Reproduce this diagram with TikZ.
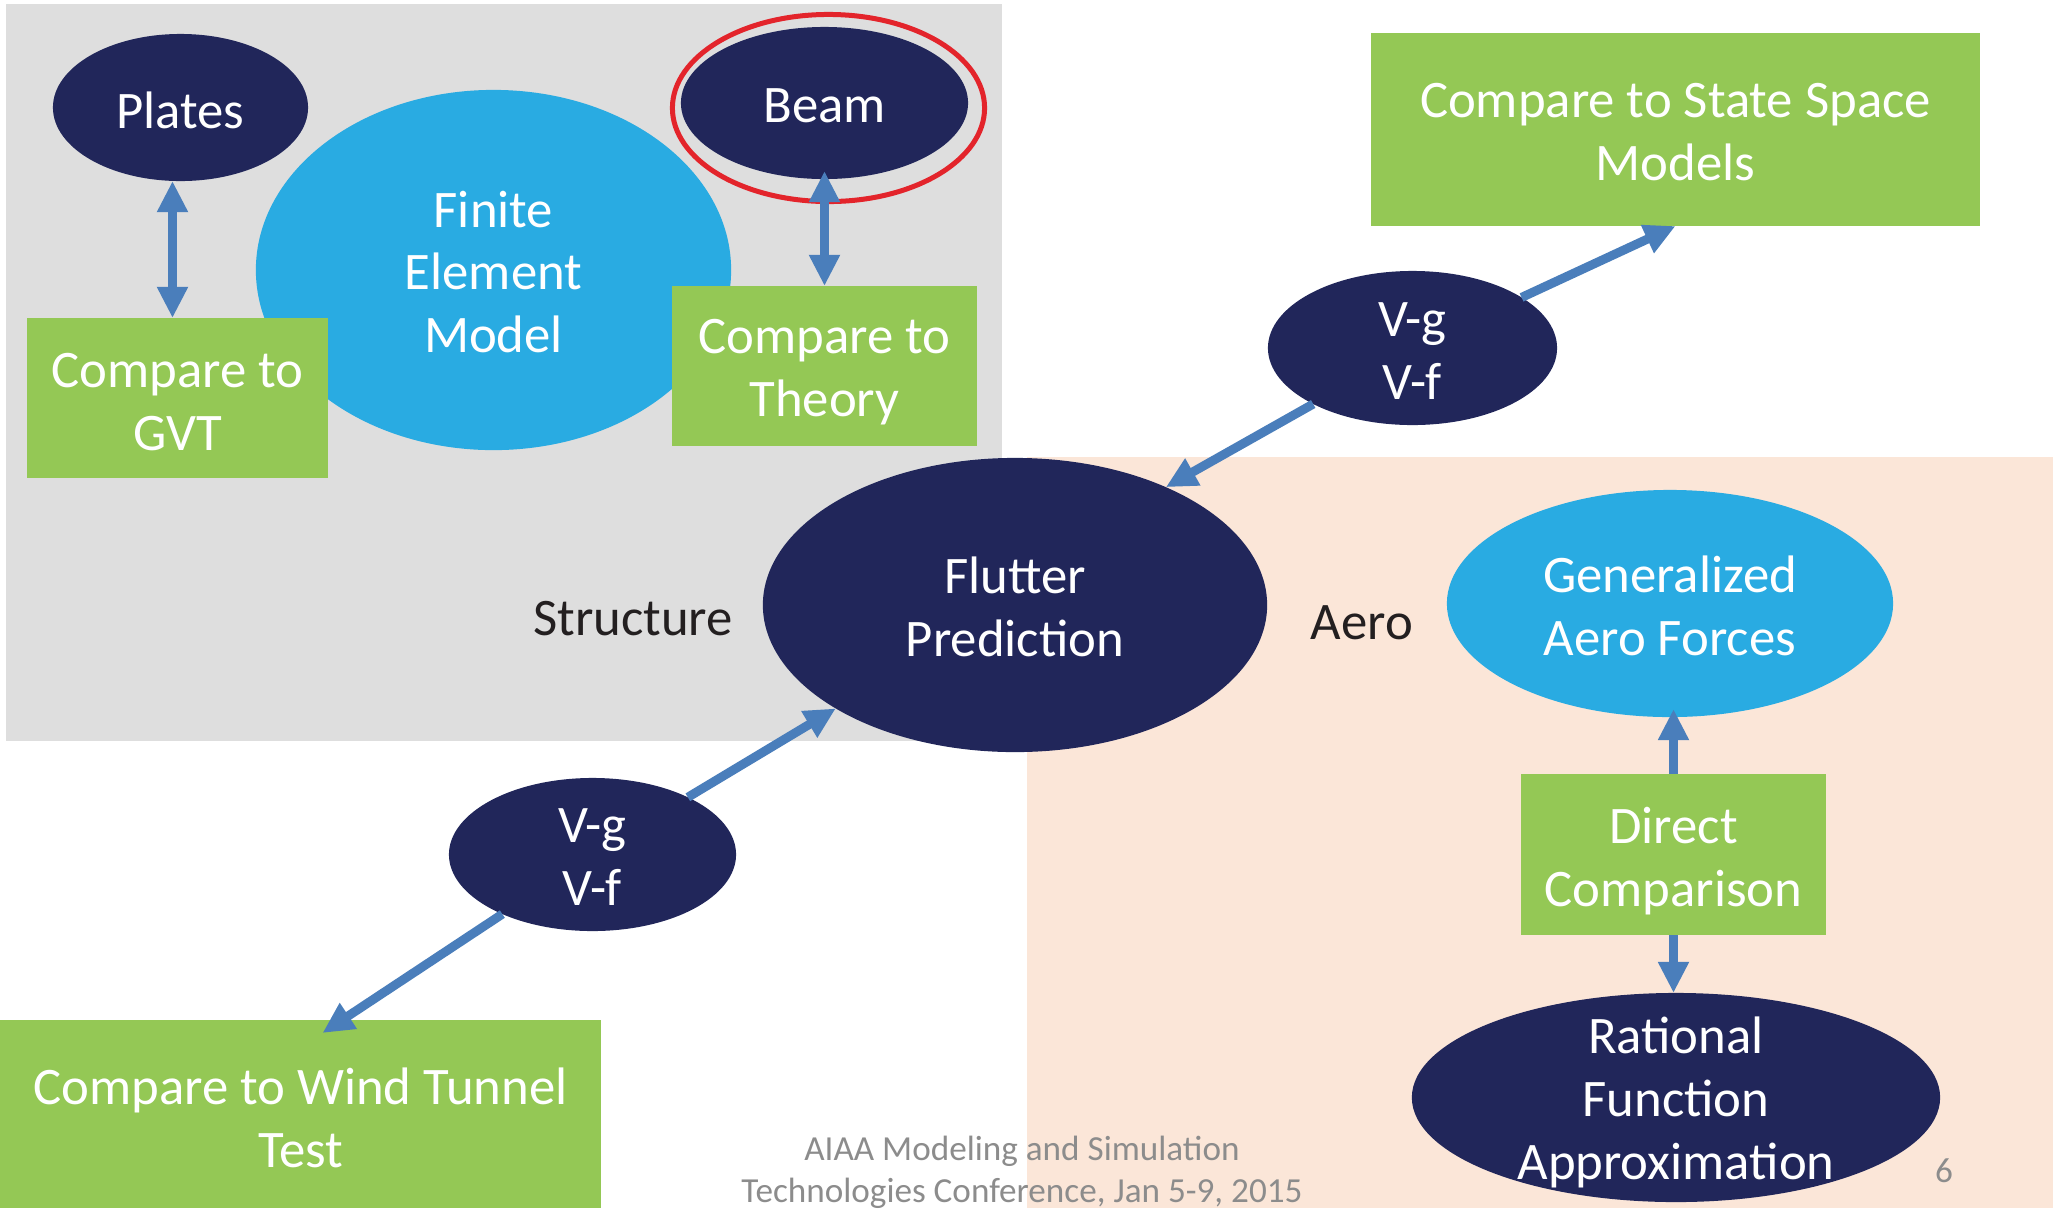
\documentclass[tikz,border=0pt]{standalone}
\usepackage{fontspec}
\setmainfont{Carlito}
\usetikzlibrary{shapes.geometric,arrows.meta}
\definecolor{navy}{HTML}{21265A}
\definecolor{skyfill}{HTML}{29ABE2}
\definecolor{boxgreen}{HTML}{94C855}
\definecolor{arrowblue}{HTML}{4A7EBB}
\definecolor{ringred}{HTML}{E3242B}
\definecolor{structgray}{HTML}{DEDEDE}
\definecolor{aeropeach}{HTML}{FBE6D8}
\definecolor{footgray}{HTML}{8C8C8C}
\definecolor{inkblack}{HTML}{231F20}
\tikzset{
	bigtext/.style={font=\fontsize{15}{17.9}\selectfont, align=center},
	wtxt/.style={bigtext, text=white, inner sep=0pt, yshift=-0.03cm},
	oval/.style={ellipse, inner sep=0pt, outer sep=0pt},
	darkoval/.style={oval, fill=navy},
	blueoval/.style={oval, fill=skyfill},
	greenbox/.style={rectangle, fill=boxgreen, inner sep=0pt, outer sep=0pt},
	link/.style={draw=arrowblue, line width=0.09cm, >={Triangle[length=0.31cm,width=0.29cm]}},
}
\begin{document}
\begin{tikzpicture}[x=0.01cm, y=-0.01cm]
					\useasboundingbox (0,0) rectangle (2053,1208);
					% Structure and Aero areas
					\fill[structgray] (6,4) rectangle (1002,741);
					\fill[aeropeach] (1027,457) rectangle (2053,1208);
					% Structure side
					\node[blueoval, minimum width=4.75cm, minimum height=3.6cm, label={[wtxt,yshift=0.01cm]center:Finite\\Element\\Model}] (fem) at (493.5,270) {};
					\node[darkoval, minimum width=2.55cm, minimum height=1.47cm, label={[wtxt]center:Plates}] (plates) at (180.5,107.5) {};
					\node[darkoval, minimum width=2.87cm, minimum height=1.52cm, label={[wtxt]center:Beam}] (beam) at (824.5,103) {};
					\node[oval, draw=ringred, line width=0.05cm, minimum width=3.12cm, minimum height=1.87cm] (ring) at (828.5,108) {};
					\node[greenbox, minimum width=3.01cm, minimum height=1.6cm, label={[wtxt,yshift=-0.01cm]center:Compare to\\GVT}] (gvt) at (177.5,398) {};
					\node[greenbox, minimum width=3.05cm, minimum height=1.6cm, label={[wtxt,yshift=-0.035cm]center:Compare to\\Theory}] (theory) at (824.5,366) {};
					\node[bigtext, text=inkblack] (structure) at (633,619) {Structure};
					% Flutter prediction in the middle
					\node[darkoval, minimum width=5.04cm, minimum height=2.94cm, label={[wtxt,yshift=0.01cm]center:Flutter\\Prediction}] (flutter) at (1015,605) {};
					% V-g / V-f comparisons
					\node[darkoval, minimum width=2.89cm, minimum height=1.54cm, label={[wtxt]center:V-g\\V-f}] (vgup) at (1412.5,348) {};
					\node[darkoval, minimum width=2.87cm, minimum height=1.53cm, label={[wtxt]center:V-g\\V-f}] (vglow) at (592.5,854.5) {};
					\node[greenbox, minimum width=6.09cm, minimum height=1.93cm, label={[wtxt]center:Compare to State Space\\Models}] (ssm) at (1675.5,129.5) {};
					\node[greenbox, minimum width=6.01cm, minimum height=1.88cm, label={[wtxt,yshift=-0.01cm]center:Compare to Wind Tunnel\\Test}] (wind) at (300.5,1114) {};
					% Aero side
					\node[bigtext, text=inkblack] (aero) at (1362,623) {Aero};
					\node[blueoval, minimum width=4.46cm, minimum height=2.27cm, label={[wtxt,yshift=0.01cm]center:Generalized\\Aero Forces}] (gaf) at (1670,603.5) {};
					\node[greenbox, minimum width=3.05cm, minimum height=1.61cm, label={[wtxt,yshift=-0.035cm]center:Direct\\Comparison}] (direct) at (1673.5,854.5) {};
					\node[darkoval, minimum width=5.28cm, minimum height=2.09cm, label={[wtxt,yshift=-0.015cm]center:Rational\\Function\\Approximation}] (rfa) at (1676,1097.5) {};
					% Arrows
					\draw[link, <->] ([xshift=-0.05cm]gvt.north |- plates.south) -- ([xshift=-0.05cm]gvt.north);
					\draw[link, <->] ([yshift=0.08cm]beam.south) -- (theory.north);
					\draw[link, ->] (vgup) -- (ssm.south);
					\draw[link, ->] (vgup) -- (flutter.38);
					\draw[link, ->] (vglow) -- (flutter.210);
					\draw[link, ->] (vglow) -- ([shift={(0.22cm,-0.13cm)}]wind.north);
					\draw[link, ->] (direct.north) -- ([yshift=0.08cm]direct.north |- gaf.south);
					\draw[link, ->] (direct.south) -- (direct.south |- rfa.north);
					% Footer
					\node[text=footgray, font=\fontsize{10}{11.95}\selectfont, align=center] (footer) at (1022,1172) {AIAA Modeling and Simulation\\Technologies Conference, Jan 5-9, 2015};
					\node[text=footgray, font=\fontsize{10}{12}\selectfont] (pagenum) at (1944,1170.5) {6};
\end{tikzpicture}
\end{document}
